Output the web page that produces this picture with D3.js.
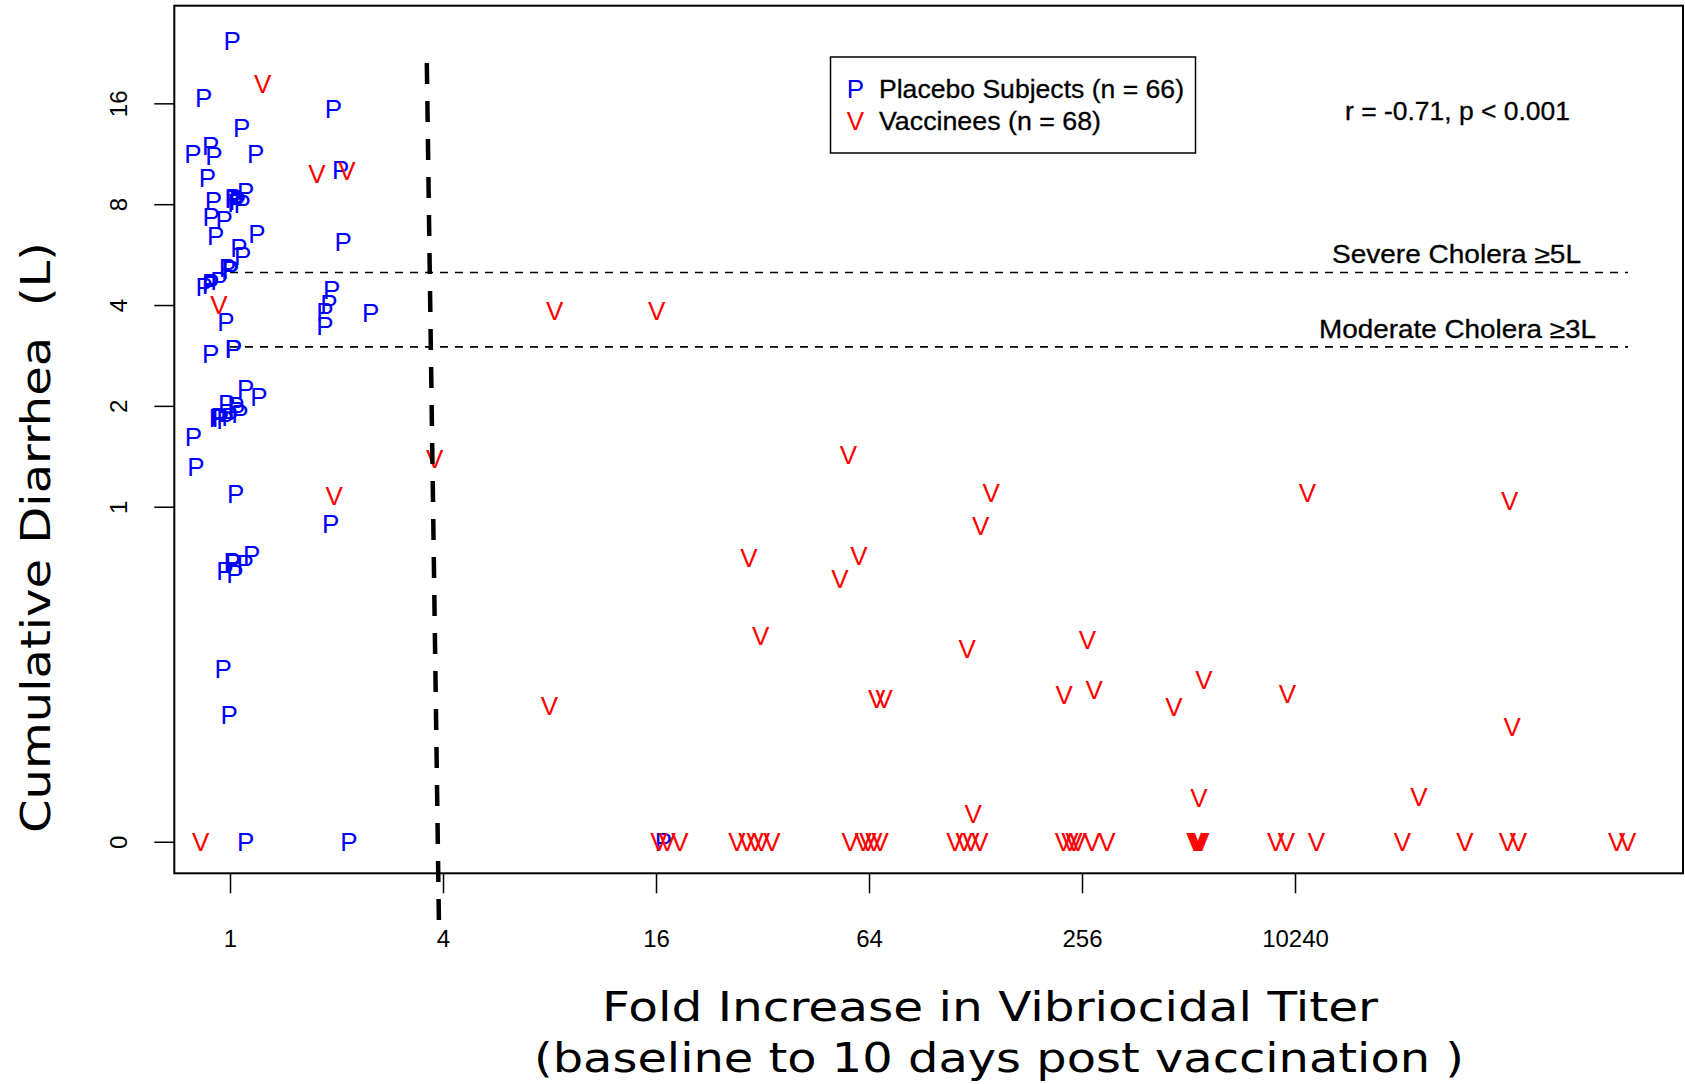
<!DOCTYPE html>
<html>
<head>
<meta charset="utf-8">
<script src="https://cdn.jsdelivr.net/npm/d3@7"></script>
<style>
  body { margin: 0; background: #fff; }
  svg { display: block; }
  text { font-family: "Liberation Sans", Arial, sans-serif; }
</style>
</head>
<body>
<div id="chart"></div>
<script>
// fold increase in vibriocidal titer (x) and cumulative diarrhea in litres (y)
// 0 L subjects are drawn at ZERO_AT on the log axis
const placeboFold = [
  1.015, 0.843, 1.959, 1.079, 0.882, 0.786, 0.901, 1.182, 2.055, 0.863,
  0.897, 1.022, 1.049, 1.107, 1.083, 0.884, 0.962, 0.911, 1.192, 2.09,
  1.06, 1.086, 0.983, 1.005, 0.845, 0.882, 0.931, 1.938, 1.905, 1.856,
  1.856, 2.5, 0.974, 0.882, 1.022, 1.022, 1.107, 1.208, 0.979, 1.045,
  0.921, 1.0, 0.968, 1.067, 0.788, 0.801, 1.038, 1.926, 1.152, 1.015,
  1.103, 0.968, 1.033, 0.957, 0.995, 1.107, 2.17, 16.8,
  1.02, 1.04, 0.93, 0.94, 0.88, 1.02, 1.0, 1.04
];
const placeboLitres = [
  24.6, 16.67, 15.46, 13.57, 11.96, 11.29, 11.16, 11.29, 10.12, 9.62,
  8.19, 8.38, 8.19, 8.71, 8.01, 7.32, 7.18, 6.44, 6.52, 6.18,
  5.95, 5.61, 5.18, 5.09, 4.54, 4.68, 4.73, 4.46, 4.03, 3.82,
  3.47, 3.80, 3.57, 2.87, 2.97, 2.97, 2.25, 2.13, 2.03, 1.93,
  1.84, 1.86, 1.82, 1.90, 1.62, 1.32, 1.097, 0.892, 0.718, 0.685,
  0.678, 0.644, 0.633, 0.328, 0.240, 0, 0, 0,
  8.3, 8.1, 1.86, 1.85, 4.6, 0.68, 5.1, 2.0
];
const vaccineeFold = [
  1.237, 1.762, 2.142, 0.931, 3.79, 1.971, 8.27, 16.07, 56.0, 141.7,
  132.4, 29.3, 59.9, 53.0, 31.6, 121.2, 8.0, 67.3, 70.6, 126.1,
  1110, 4138, 265, 228, 277, 466, 566, 975, 4210, 548,
  2295, 0.826, 16.3, 17.2, 18.7, 27.1, 28.9, 30.5, 31.8, 34.0,
  56.6, 61.6, 63.6, 66.1, 68.8, 112, 118.8, 124.3, 131.8, 226.8,
  236.7, 243, 249.4, 273, 301, 534, 541, 548, 555, 903,
  969, 1177, 2061, 3096, 4079, 4383, 8310, 8928
];
const vaccineeLitres = [
  18.27, 9.87, 10.07, 4.0, 1.395, 1.078, 3.85, 3.85, 1.427, 1.10,
  0.880, 0.703, 0.716, 0.610, 0.413, 0.377, 0.254, 0.267, 0.267, 0.121,
  1.10, 1.04, 0.402, 0.275, 0.285, 0.253, 0.304, 0.277, 0.221, 0.135,
  0.136, 0, 0, 0, 0, 0, 0, 0, 0, 0,
  0, 0, 0, 0, 0, 0, 0, 0, 0, 0,
  0, 0, 0, 0, 0, 0, 0, 0, 0, 0,
  0, 0, 0, 0, 0, 0, 0, 0
];

const xTickValues = [1, 4, 16, 64, 256, 1024];
const xTickLabels = ["1", "4", "16", "64", "256", "10240"];
const yTickValues = [0, 1, 2, 4, 8, 16];
const ZERO_AT = 0.1;

const severeLitres = 5;
const moderateLitres = 3;
const cutLineFold = [1, 8945];
// hand drawn 4-fold cut-off, slightly slanted
const cutoffFold = [3.6, 3.9];
const cutoffLitres = [21.1, 0.0525];

const legendItems = ["Placebo Subjects (n = 66)", "Vaccinees (n = 68)"];
const legendWidths = [305, 222];
const statsLabel = "r = -0.71, p < 0.001";

const width = 1685, height = 1084;
const box = {left: 174.3, top: 5.7, right: 1683, bottom: 873.3};

const svg = d3.select("#chart")
  .append("svg")
    .attr("width", width)
    .attr("height", height);

const x = d3.scaleLog().base(2)
  .domain([0.6959, 12793])
  .range([box.left, box.right]);
const y = d3.scaleLog().base(2)
  .domain([0.0805, 31.3])
  .range([box.bottom, box.top]);
const yPos = v => y(v === 0 ? ZERO_AT : v);

// X axis
const gx = svg.append("g")
  .attr("transform", `translate(0, ${box.bottom})`)
  .call(d3.axisBottom(x)
    .tickValues(xTickValues)
    .tickFormat((d, i) => xTickLabels[i])
    .tickSize(20)
    .tickPadding(37));
gx.select(".domain").remove();
gx.selectAll("line").attr("stroke", "#000").attr("stroke-width", 1.5);
gx.selectAll("text").attr("font-size", 24).attr("fill", "#000")
  .style("font-family", "'Liberation Sans', Arial, sans-serif");

// Y axis, labels turned like R's default
const gy = svg.append("g")
  .attr("transform", `translate(${box.left}, 0)`)
  .call(d3.axisLeft(y)
    .tickValues(yTickValues.map(v => v === 0 ? ZERO_AT : v))
    .tickFormat((d, i) => String(yTickValues[i]))
    .tickSize(20));
gy.select(".domain").remove();
gy.selectAll("line").attr("stroke", "#000").attr("stroke-width", 1.5);
gy.selectAll("text")
  .attr("x", 0)
  .attr("dy", 0)
  .attr("text-anchor", "middle")
  .attr("transform", "translate(-47,0) rotate(-90)")
  .attr("font-size", 24)
  .attr("fill", "#000")
  .style("font-family", "'Liberation Sans', Arial, sans-serif");

// frame
svg.append("rect")
  .attr("x", box.left).attr("y", box.top)
  .attr("width", box.right - box.left)
  .attr("height", box.bottom - box.top)
  .attr("fill", "none")
  .attr("stroke", "#000")
  .attr("stroke-width", 2);

// cholera thresholds
[severeLitres, moderateLitres].forEach(v => {
  svg.append("line")
    .attr("x1", x(cutLineFold[0])).attr("x2", x(cutLineFold[1]))
    .attr("y1", y(v)).attr("y2", y(v))
    .attr("stroke", "#000")
    .attr("stroke-width", 1.6)
    .attr("stroke-dasharray", "8,7");
});
svg.append("text")
  .attr("x", 1332).attr("y", y(severeLitres) - 10)
  .attr("font-size", 25)
  .attr("textLength", 249)
  .attr("lengthAdjust", "spacingAndGlyphs")
  .attr("stroke", "#000").attr("stroke-width", 0.3)
  .text("Severe Cholera \u22655L");
svg.append("text")
  .attr("x", 1319).attr("y", y(moderateLitres) - 9)
  .attr("font-size", 25)
  .attr("textLength", 277)
  .attr("lengthAdjust", "spacingAndGlyphs")
  .attr("stroke", "#000").attr("stroke-width", 0.3)
  .text("Moderate Cholera \u22653L");

// points
svg.append("g").selectAll("text")
  .data(placeboFold.map((f, i) => [f, placeboLitres[i]]))
  .enter()
  .append("text")
    .attr("x", d => x(d[0]))
    .attr("y", d => yPos(d[1]))
    .attr("dy", "0.36em")
    .attr("text-anchor", "middle")
    .attr("font-size", 26)
    .attr("fill", "#0000ff")
    .text("P");

svg.append("g").selectAll("text")
  .data(vaccineeFold.map((f, i) => [f, vaccineeLitres[i]]))
  .enter()
  .append("text")
    .attr("x", d => x(d[0]))
    .attr("y", d => yPos(d[1]))
    .attr("dy", "0.36em")
    .attr("text-anchor", "middle")
    .attr("font-size", 26)
    .attr("fill", "#ff0000")
    .text("V");

// 4-fold cut-off
svg.append("path")
  .datum(cutoffFold.map((f, i) => [f, cutoffLitres[i]]))
  .attr("d", d3.line().x(d => x(d[0])).y(d => y(d[1])))
  .attr("fill", "none")
  .attr("stroke", "#000")
  .attr("stroke-width", 4.5)
  .attr("stroke-dasharray", "21,17");

// legend
svg.append("rect")
  .attr("x", 830.5).attr("y", 57)
  .attr("width", 365).attr("height", 96)
  .attr("fill", "#fff")
  .attr("stroke", "#000")
  .attr("stroke-width", 1.5);
const legend = svg.append("g").selectAll("g")
  .data(legendItems)
  .enter()
  .append("g")
    .attr("transform", (d, i) => `translate(0, ${98 + i * 32})`);
legend.append("text")
  .attr("x", 855.5)
  .attr("text-anchor", "middle")
  .attr("font-size", 26)
  .attr("fill", (d, i) => i === 0 ? "#0000ff" : "#ff0000")
  .text((d, i) => i === 0 ? "P" : "V");
legend.append("text")
  .attr("x", 879)
  .attr("font-size", 25)
  .attr("textLength", (d, i) => legendWidths[i])
  .attr("lengthAdjust", "spacingAndGlyphs")
  .attr("stroke", "#000").attr("stroke-width", 0.3)
  .text(d => d);

svg.append("text")
  .attr("x", 1345).attr("y", 120)
  .attr("font-size", 25)
  .attr("textLength", 225)
  .attr("lengthAdjust", "spacingAndGlyphs")
  .attr("stroke", "#000").attr("stroke-width", 0.3)
  .text(statsLabel);

// axis titles
svg.append("text")
  .attr("x", 990).attr("y", 1021)
  .attr("text-anchor", "middle")
  .attr("font-size", 40)
  .attr("textLength", 776)
  .attr("lengthAdjust", "spacingAndGlyphs")
  .style("font-family", "'DejaVu Sans', Verdana, sans-serif")
  .text("Fold Increase in Vibriocidal Titer");
svg.append("text")
  .attr("x", 999).attr("y", 1072)
  .attr("text-anchor", "middle")
  .attr("font-size", 40)
  .attr("textLength", 930)
  .attr("lengthAdjust", "spacingAndGlyphs")
  .style("font-family", "'DejaVu Sans', Verdana, sans-serif")
  .text("(baseline to 10 days post vaccination )");
svg.append("text")
  .attr("transform", "translate(50, 537.5) rotate(-90)")
  .attr("text-anchor", "middle")
  .attr("font-size", 40)
  .attr("textLength", 591)
  .attr("lengthAdjust", "spacingAndGlyphs")
  .style("font-family", "'DejaVu Sans', Verdana, sans-serif")
  .style("white-space", "pre")
  .text("Cumulative Diarrhea  (L)");
</script>
</body>
</html>
